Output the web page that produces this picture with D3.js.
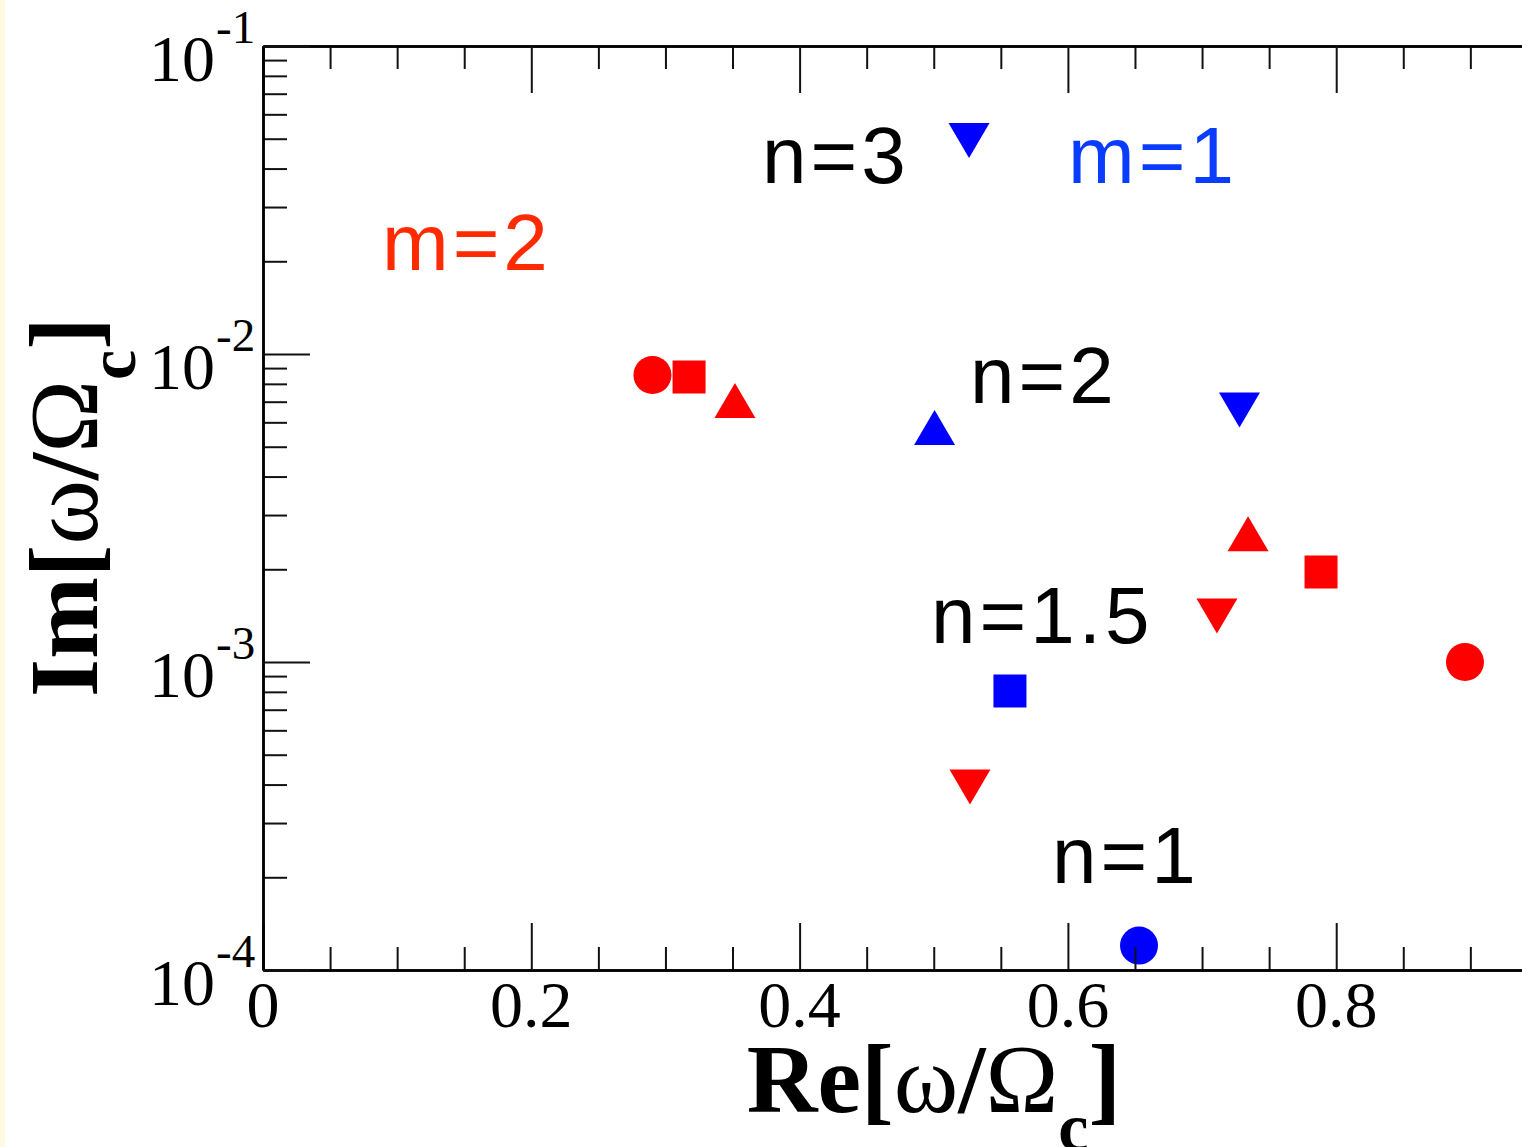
<!DOCTYPE html>
<html>
<head>
<meta charset="utf-8">
<script src="https://cdn.jsdelivr.net/npm/d3@7"></script>
<style>
  html, body { margin: 0; padding: 0; background: #ffffff; overflow: hidden; }
  svg { display: block; }
</style>
</head>
<body>
<svg id="chart" width="1522" height="1147"></svg>
<script>
// Eigenfrequencies: real part vs. growth rate, azimuthal numbers m=1 and m=2
const m2Re    = [0.2903, 0.3176, 0.3518, 0.5270, 0.7111, 0.7343, 0.7887, 0.8960];
const m2Im    = [8.55e-3, 8.42e-3, 7.06e-3, 3.93e-4, 1.41e-3, 2.61e-3, 1.96e-3, 1.00e-3];
const m2Shape = ["circle", "square", "up", "down", "down", "up", "square", "circle"];

const m1Re    = [0.5263, 0.5006, 0.7279, 0.5568, 0.6530];
const m1Im    = [4.93e-2, 5.77e-3, 6.58e-3, 8.05e-4, 1.20e-4];
const m1Shape = ["down", "up", "down", "square", "circle"];

const xMajorTicks  = [0, 0.2, 0.4, 0.6, 0.8];
const xTickLabels  = ["0", "0.2", "0.4", "0.6", "0.8"];
const yDecades     = [1e-4, 1e-3, 1e-2, 1e-1];
const yExponents   = ["-4", "-3", "-2", "-1"];

const noteText = ["n=3", "m=1", "m=2", "n=2", "n=1.5", "n=1"];
const noteRe   = [0.3720, 0.6001, 0.0887, 0.5270, 0.4980, 0.5882];
const noteIm   = [3.591e-2, 3.591e-2, 1.874e-2, 6.935e-3, 1.153e-3, 1.917e-4];
const noteColor = ["#000000", "#0a3cff", "#ff2a00", "#000000", "#000000", "#000000"];

const svg = d3.select("#chart");

// faint strip on the left edge of the page
svg.append("rect").attr("x", 0).attr("y", 0).attr("width", 5).attr("height", 1147)
  .attr("fill", "#fffbe2");

const plotLeft = 263, plotTop = 46, plotBottom = 970;
const x = d3.scaleLinear().domain([0, 1]).range([plotLeft, plotLeft + 1341.5]);
const y = d3.scaleLog().domain([1e-4, 1e-1]).range([plotBottom, plotTop]);

// symbol outlines centred on the data point
function symbolPath(kind) {
  const p = d3.path();
  if (kind === "circle") {
    p.arc(0, 0, 19, 0, 2 * Math.PI);
  } else if (kind === "square") {
    p.rect(-16.5, -16.5, 33, 33);
  } else if (kind === "up") {
    p.moveTo(0, -17.5); p.lineTo(20.5, 17.5); p.lineTo(-20.5, 17.5); p.closePath();
  } else {
    p.moveTo(0, 17.5); p.lineTo(20.5, -17.5); p.lineTo(-20.5, -17.5); p.closePath();
  }
  return p.toString();
}

function drawSeries(re, im, shapes, color) {
  svg.append("g").selectAll("path")
    .data(re.map((r, i) => ({ r, v: im[i], s: shapes[i] })))
    .join("path")
    .attr("d", d => symbolPath(d.s))
    .attr("transform", d => `translate(${x(d.r)},${y(d.v)})`)
    .attr("fill", color);
}
drawSeries(m2Re, m2Im, m2Shape, "#ff0000");
drawSeries(m1Re, m1Im, m1Shape, "#0000ff");

// annotations
svg.append("g").selectAll("text")
  .data(noteText.map((t, i) => ({ t, r: noteRe[i], v: noteIm[i], c: noteColor[i] })))
  .join("text")
  .attr("x", d => x(d.r)).attr("y", d => y(d.v))
  .attr("font-family", "'Liberation Sans', Arial, sans-serif")
  .attr("font-size", 80)
  .attr("letter-spacing", 4)
  .attr("fill", d => d.c)
  .text(d => d.t);

// axes
const xMinor = d3.range(0.05, 1.0, 0.05).filter(v => Math.abs(v * 5 - Math.round(v * 5)) > 1e-6);
const yMinor = [];
yDecades.slice(0, 3).forEach(dec => { for (let k = 2; k <= 9; k++) yMinor.push(dec * k); });

function styleAxis(g, width) {
  g.select(".domain").attr("stroke", "#000").attr("stroke-width", width);
  g.selectAll(".tick line").attr("stroke", "#111").attr("stroke-width", 2);
  g.selectAll(".tick text").remove();
}

const axes = svg.append("g");
axes.append("g").attr("transform", `translate(0,${plotBottom})`)
  .call(d3.axisBottom(x).tickValues(xMinor).tickSize(-23).tickSizeOuter(0).tickFormat(""))
  .call(g => styleAxis(g, 2.5));
axes.append("g").attr("transform", `translate(0,${plotBottom})`)
  .call(d3.axisBottom(x).tickValues(xMajorTicks).tickSize(-47).tickSizeOuter(0).tickFormat(""))
  .call(g => styleAxis(g, 2.5));
axes.append("g").attr("transform", `translate(0,${plotTop})`)
  .call(d3.axisTop(x).tickValues(xMinor).tickSize(-23).tickSizeOuter(0).tickFormat(""))
  .call(g => styleAxis(g, 2.5));
axes.append("g").attr("transform", `translate(0,${plotTop})`)
  .call(d3.axisTop(x).tickValues(xMajorTicks).tickSize(-47).tickSizeOuter(0).tickFormat(""))
  .call(g => styleAxis(g, 2.5));
axes.append("g").attr("transform", `translate(${plotLeft},0)`)
  .call(d3.axisLeft(y).tickValues(yMinor).tickSize(-24).tickSizeOuter(0).tickFormat(""))
  .call(g => styleAxis(g, 2.5));
axes.append("g").attr("transform", `translate(${plotLeft},0)`)
  .call(d3.axisLeft(y).tickValues(yDecades).tickSize(-47).tickSizeOuter(0).tickFormat(""))
  .call(g => styleAxis(g, 2.5));

const serif = "'Liberation Serif', 'Times New Roman', serif";

// x tick labels
svg.append("g").selectAll("text")
  .data(xMajorTicks.map((v, i) => ({ v, t: xTickLabels[i] })))
  .join("text")
  .attr("x", d => x(d.v)).attr("y", 1027)
  .attr("text-anchor", "middle")
  .attr("font-family", serif).attr("font-size", 66)
  .text(d => d.t);

// y tick labels: 10 with superscript exponent
const yLab = svg.append("g").selectAll("g")
  .data(yDecades.map((v, i) => ({ v, e: yExponents[i] })))
  .join("g");
yLab.append("text")
  .attr("x", 215).attr("y", d => y(d.v) + 35)
  .attr("text-anchor", "end")
  .attr("font-family", serif).attr("font-size", 66)
  .text("10");
yLab.append("text")
  .attr("x", 216).attr("y", d => y(d.v) - 3)
  .attr("font-family", serif).attr("font-size", 47)
  .text(d => d.e);

// axis titles
function axisTitle(sel, lead) {
  sel.attr("font-family", serif).attr("font-size", 98).attr("text-anchor", "middle");
  sel.append("tspan").attr("font-weight", "bold").text(lead + "[");
  sel.append("tspan").text("ω");
  sel.append("tspan").attr("font-weight", "bold").text("/");
  sel.append("tspan").text("Ω");
  sel.append("tspan").attr("font-weight", "bold").attr("font-size", 68).attr("dy", 38).text("c");
  sel.append("tspan").attr("font-weight", "bold").attr("dy", -38).text("]");
}
svg.append("text").attr("x", 934).attr("y", 1112).call(axisTitle, "Re");
svg.append("text").attr("transform", "translate(97,507) rotate(-90)").call(axisTitle, "Im");
</script>
</body>
</html>
